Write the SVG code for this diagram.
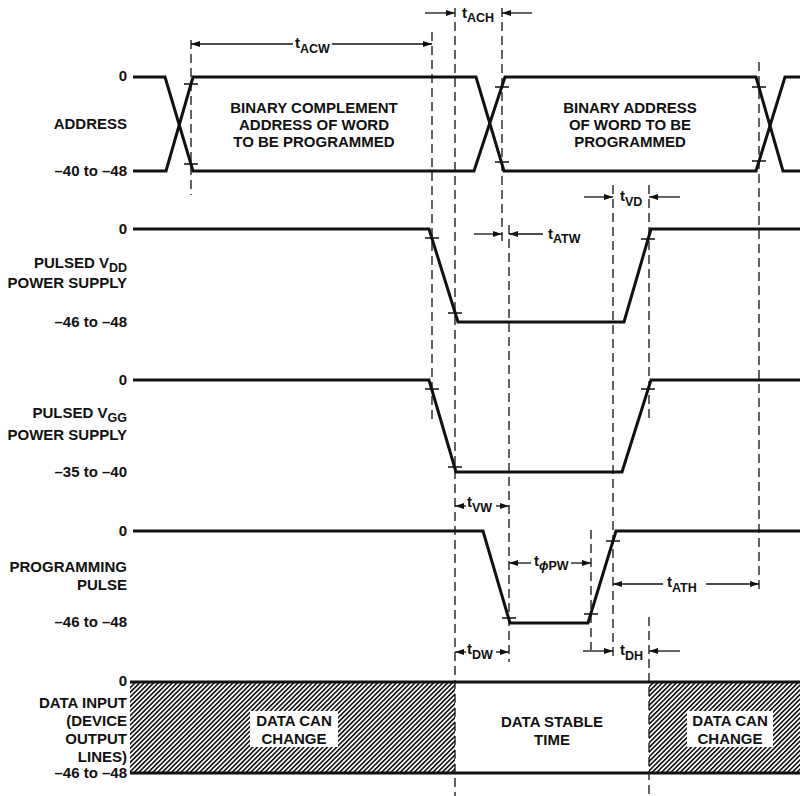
<svg xmlns="http://www.w3.org/2000/svg" width="800" height="796" viewBox="0 0 800 796">
<style>
.w{fill:none;stroke:#111;stroke-width:3;stroke-linejoin:miter}
.d{fill:none;stroke:#111;stroke-width:1.3;stroke-dasharray:9 5}
.a{fill:none;stroke:#111;stroke-width:1.3}
.tk{stroke:#111;stroke-width:1.3}
text{font-family:"Liberation Sans",Arial,Helvetica,sans-serif;font-weight:bold;font-size:15px;fill:#111}
.r{text-anchor:end}
.c{text-anchor:middle}
.s{font-size:12.5px}
.box{fill:#fff}
</style>
<defs>
<marker id="ah" markerWidth="9" markerHeight="6" refX="9" refY="3" orient="auto" markerUnits="userSpaceOnUse">
<path d="M0,0 L9,3 L0,6 z" fill="#111"/>
</marker>
<pattern id="hatch" patternUnits="userSpaceOnUse" width="3.3" height="10" patternTransform="rotate(45)">
<line x1="0.8" y1="0" x2="0.8" y2="10" stroke="#111" stroke-width="1.6"/>
</pattern>
</defs>
<rect width="800" height="796" fill="#fff"/>

<g id="labels">
<text class="r" x="127" y="81">0</text>
<text class="r" x="127" y="129">ADDRESS</text>
<text class="r" x="127" y="176">–40 to –48</text>
<text class="r" x="127" y="234">0</text>
<text class="r" x="127" y="268">PULSED V<tspan class="s" dy="4">DD</tspan></text>
<text class="r" x="127" y="288">POWER SUPPLY</text>
<text class="r" x="127" y="327">–46 to –48</text>
<text class="r" x="127" y="385">0</text>
<text class="r" x="127" y="418">PULSED V<tspan class="s" dy="4">GG</tspan></text>
<text class="r" x="127" y="440">POWER SUPPLY</text>
<text class="r" x="127" y="477">–35 to –40</text>
<text class="r" x="127" y="536">0</text>
<text class="r" x="127" y="572">PROGRAMMING</text>
<text class="r" x="127" y="590">PULSE</text>
<text class="r" x="127" y="627">–46 to –48</text>
<text class="r" x="127" y="686">0</text>
<text class="r" x="127" y="708">DATA INPUT</text>
<text class="r" x="127" y="726">(DEVICE</text>
<text class="r" x="127" y="744">OUTPUT</text>
<text class="r" x="127" y="762">LINES)</text>
<text class="r" x="127" y="778">–46 to –48</text>
</g>

<g id="data">
<rect x="130" y="682" width="325" height="91" fill="url(#hatch)"/>
<rect x="649" y="682" width="151" height="91" fill="url(#hatch)"/>
<rect class="box" x="250" y="711" width="88" height="36"/>
<rect class="box" x="687" y="711" width="86" height="36"/>
<path class="w" d="M130,682 H800 M130,773 H800"/>
<text class="c" x="294" y="726">DATA CAN</text>
<text class="c" x="294" y="744">CHANGE</text>
<text class="c" x="552" y="727">DATA STABLE</text>
<text class="c" x="552" y="745">TIME</text>
<text class="c" x="730" y="726">DATA CAN</text>
<text class="c" x="730" y="744">CHANGE</text>
</g>

<g id="address">
<path class="w" d="M133,77 H165 L193,171 H474 L505,77 H756 L783,171 H800"/>
<path class="w" d="M133,171 H166 L193,77 H476 L504,171 H756 L785,77 H800"/>
<text class="c" x="314" y="113">BINARY COMPLEMENT</text>
<text class="c" x="314" y="130">ADDRESS OF WORD</text>
<text class="c" x="314" y="147">TO BE PROGRAMMED</text>
<text class="c" x="630" y="113">BINARY ADDRESS</text>
<text class="c" x="630" y="130">OF WORD TO BE</text>
<text class="c" x="630" y="147">PROGRAMMED</text>
<path class="tk" d="M184,84 H198 M184,164 H198 M495,87 H509 M495,162 H509 M752,87 H766 M752,161 H766"/>
</g>

<g id="vdd">
<path class="w" d="M133,229 H429 L458,322 H624 L651,229 H800"/>
<path class="tk" d="M425,238 H439 M448,313 H462 M641,239 H655"/>
</g>

<g id="vgg">
<path class="w" d="M133,380 H429 L456,472 H622 L651,380 H800"/>
<path class="tk" d="M425,389 H439 M448,467 H462 M641,389 H655"/>
</g>

<g id="prog">
<path class="w" d="M133,531 H483 L510,623 H588 L616,531 H800"/>
<path class="tk" d="M502,618 H516 M584,614 H598 M606,541 H620"/>
</g>

<g id="connectors">
<path class="d" d="M191,40 V195"/>
<path class="d" d="M432,32 V422"/>
<path class="d" d="M455,8 V796"/>
<path class="d" d="M502,8 V242"/>
<path class="d" d="M509,225 V662"/>
<path class="d" d="M613,185 V657"/>
<path class="d" d="M649,185 V422"/>
<path class="d" d="M649,617 V796"/>
<path class="d" d="M591,530 V650"/>
<path class="d" d="M759,62 V593"/>

<line class="a" x1="293" y1="44" x2="191" y2="44" marker-end="url(#ah)"/>
<line class="a" x1="332" y1="44" x2="432" y2="44" marker-end="url(#ah)"/>
<text x="295" y="48">t<tspan class="s" dy="5">ACW</tspan></text>

<line class="a" x1="425" y1="13" x2="455" y2="13" marker-end="url(#ah)"/>
<line class="a" x1="532" y1="13" x2="502" y2="13" marker-end="url(#ah)"/>
<text x="462" y="18">t<tspan class="s" dy="4">ACH</tspan></text>

<line class="a" x1="584" y1="197" x2="613" y2="197" marker-end="url(#ah)"/>
<line class="a" x1="680" y1="197" x2="649" y2="197" marker-end="url(#ah)"/>
<text x="620" y="201">t<tspan class="s" dy="5">VD</tspan></text>

<line class="a" x1="474" y1="234" x2="502" y2="234" marker-end="url(#ah)"/>
<line class="a" x1="543" y1="234" x2="509" y2="234" marker-end="url(#ah)"/>
<text x="548" y="239">t<tspan class="s" dy="4">ATW</tspan></text>

<line class="a" x1="466" y1="506" x2="455" y2="506" marker-end="url(#ah)"/>
<line class="a" x1="496" y1="506" x2="509" y2="506" marker-end="url(#ah)"/>
<text x="467" y="507">t<tspan class="s" dy="5">VW</tspan></text>

<line class="a" x1="531" y1="563" x2="509" y2="563" marker-end="url(#ah)"/>
<line class="a" x1="571" y1="563" x2="591" y2="563" marker-end="url(#ah)"/>
<text x="534" y="566">t<tspan class="s" dy="4" font-style="italic">ϕ</tspan><tspan class="s">PW</tspan></text>

<line class="a" x1="663" y1="584" x2="613" y2="584" marker-end="url(#ah)"/>
<line class="a" x1="706" y1="584" x2="759" y2="584" marker-end="url(#ah)"/>
<text x="667" y="587">t<tspan class="s" dy="5">ATH</tspan></text>

<line class="a" x1="466" y1="652" x2="455" y2="652" marker-end="url(#ah)"/>
<line class="a" x1="496" y1="652" x2="509" y2="652" marker-end="url(#ah)"/>
<text x="467" y="654">t<tspan class="s" dy="5">DW</tspan></text>

<line class="a" x1="583" y1="651" x2="613" y2="651" marker-end="url(#ah)"/>
<line class="a" x1="680" y1="651" x2="649" y2="651" marker-end="url(#ah)"/>
<text x="620" y="655">t<tspan class="s" dy="5">DH</tspan></text>
</g>
</svg>
